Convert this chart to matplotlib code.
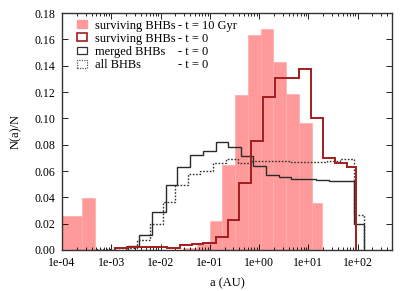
import matplotlib
matplotlib.use("Agg")
import matplotlib.pyplot as plt
import numpy as np
from matplotlib.patches import Patch
from matplotlib.ticker import FuncFormatter, MultipleLocator, LogLocator

plt.rcParams['font.family'] = 'serif'
plt.rcParams['font.serif'] = ['Liberation Serif', 'DejaVu Serif']
plt.rcParams['font.size'] = 8.6

# bin edges are log10(a / AU), values are N(a)/N
surv10_edges = [-4.12, -3.595, -3.331, -1.547, -1.269, -1.0, -0.742, -0.479, -0.215,
                0.034, 0.291, 0.555, 0.810, 1.074, 1.277]
surv10_vals = [0.0258, 0.0392, 0.0, 0.0018, 0.0045, 0.0223, 0.0646, 0.1177, 0.163,
               0.168, 0.143, 0.1185, 0.0967, 0.0355]

surv0_edges = [-2.926, -2.688, -2.433, -2.176, -1.878, -1.608, -1.371, -1.136, -0.878,
               -0.635, -0.406, -0.154, 0.081, 0.332, 0.567, 0.804, 1.062, 1.301,
               1.548, 1.783, 1.960]
surv0_vals = [0.0018, 0.0023, 0.0025, 0.0025, 0.0018, 0.0036, 0.0048, 0.005, 0.0096,
              0.0225, 0.0506, 0.0828, 0.116, 0.131, 0.131, 0.1372, 0.100, 0.0696,
              0.0663, 0.0633]

merged_edges = [-2.656, -2.433, -2.182, -1.898, -1.659, -1.395, -1.136, -0.878, -0.629,
                -0.371, -0.122, 0.141, 0.399, 0.656, 0.906, 1.163, 1.419, 1.676,
                1.925, 2.128]
merged_vals = [0.003, 0.0114, 0.029, 0.049, 0.063, 0.0725, 0.0754, 0.0823, 0.078,
               0.0716, 0.064, 0.057, 0.0552, 0.054, 0.054, 0.0534, 0.0524, 0.0524,
               0.020]

all_edges = [-3.297, -3.027, -2.688, -2.486, -2.216, -1.959, -1.699, -1.446, -1.203,
             -0.933, -0.675, -0.432, -0.169, 0.095, 0.348, 0.612, 0.879, 1.129,
             1.382, 1.636, 1.925, 2.128]
all_vals = [0.001, 0.0, 0.0013, 0.0076, 0.020, 0.0367, 0.0494, 0.058, 0.060, 0.0663,
            0.0689, 0.0663, 0.0678, 0.0678, 0.0675, 0.0672, 0.0665, 0.0668, 0.0676,
            0.0689, 0.0266]

names = ['surviving BHBs', 'surviving BHBs', 'merged BHBs', 'all BHBs']
times = ['- t = 10 Gyr', '- t = 0', '- t = 0', '- t = 0']

pink = '#ff9a9a'
dred = '#a31d1d'

fig = plt.figure(figsize=(4.15, 2.91), dpi=100)
ax = fig.add_axes([0.1494, 0.1409, 0.7952, 0.8144])

e = 10 ** np.array(surv10_edges)
ax.bar(e[:-1], surv10_vals, width=np.diff(e), align='edge', color=pink,
       edgecolor='#ffaaaa', linewidth=0.5, zorder=1)

ax.stairs(merged_vals, 10 ** np.array(merged_edges), baseline=0, color='#2a2a2a',
          lw=1.0, zorder=3)
ax.stairs(all_vals, 10 ** np.array(all_edges), baseline=0, color='#333333',
          lw=1.0, ls=(0, (1.2, 1.2)), zorder=3)
ax.stairs(surv0_vals, 10 ** np.array(surv0_edges), baseline=0, color=dred,
          lw=1.4, zorder=4)

ax.set_xscale('log')
ax.set_xlim(1e-4, 5e2)
ax.set_ylim(0, 0.18)
ax.xaxis.set_major_locator(LogLocator(base=10, numticks=10))
ax.xaxis.set_minor_locator(LogLocator(base=10, subs=np.arange(2, 10), numticks=20))
ax.xaxis.set_major_formatter(FuncFormatter(lambda x, p: f"{x:.0e}"))
ax.yaxis.set_major_locator(MultipleLocator(0.02))
ax.yaxis.set_major_formatter(FuncFormatter(lambda y, p: f"{y:.2f}"))
ax.tick_params(which='both', direction='in', top=True, right=True, width=0.6)
ax.tick_params(which='major', length=4, pad=5)
ax.tick_params(which='minor', length=2)
for s in ax.spines.values():
    s.set_linewidth(1.0)
    s.set_color('#333333')

ax.set_xlabel('a (AU)', labelpad=6, fontsize=9)
ax.set_ylabel('N(a)/N', labelpad=9, fontsize=9)

handles = [Patch(facecolor=pink, edgecolor=pink),
           Patch(facecolor='none', edgecolor=dred, lw=1.2),
           Patch(facecolor='none', edgecolor='#333333', lw=0.9),
           Patch(facecolor='none', edgecolor='#555555', lw=0.9, ls=(0, (1, 1)))]
leg = ax.legend(handles, names, loc='upper left', frameon=False, fontsize=9,
                bbox_to_anchor=(0.0455, 0.972), handlelength=0.8, handleheight=0.6,
                handletextpad=0.64, labelspacing=0.09, borderaxespad=0, borderpad=0)

fig.canvas.draw()
inv = ax.transAxes.inverted()
for t, lab in zip(leg.get_texts(), times):
    bb = t.get_window_extent()
    y = inv.transform((0, (bb.y0 + bb.y1) / 2))[1]
    ax.text(0.3515, y, lab, transform=ax.transAxes, va='center', ha='left', fontsize=9)

fig.savefig('out.png', dpi=100)
